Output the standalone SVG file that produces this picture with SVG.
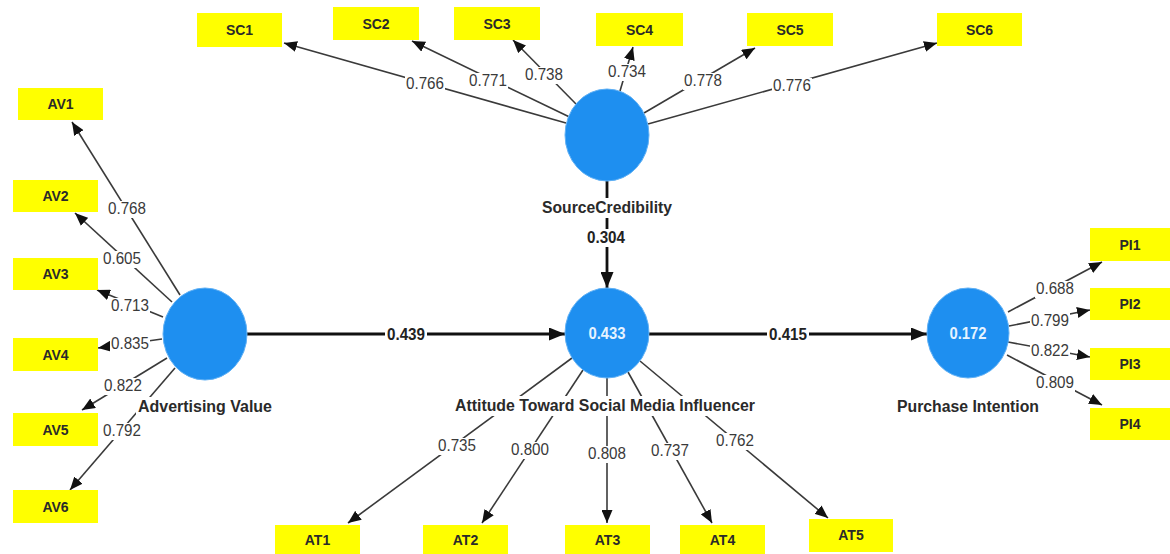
<svg xmlns="http://www.w3.org/2000/svg" width="1170" height="554" viewBox="0 0 1170 554">
<style>
.box{fill:#FFFF00}
.bt{font-family:"Liberation Sans",Arial,sans-serif;font-size:14px;font-weight:bold;fill:#2a2a2a;text-anchor:middle}
.lv{fill:#1E8FF0;stroke:#5fb0f5;stroke-width:1}
.bg{fill:#fff}
.ld{font-family:"Liberation Sans",Arial,sans-serif;font-size:16px;fill:#3a3a3a;text-anchor:middle}
.pc{font-family:"Liberation Sans",Arial,sans-serif;font-size:16px;font-weight:bold;fill:#222;text-anchor:middle}
.nm{font-family:"Liberation Sans",Arial,sans-serif;font-size:16px;font-weight:bold;fill:#2a2a2a;text-anchor:middle}
.r2{font-family:"Liberation Sans",Arial,sans-serif;font-size:16px;font-weight:bold;fill:#e6f3ff;text-anchor:middle}
.ol{stroke:#3a3a3a;stroke-width:1.6;fill:none;marker-end:url(#ah)}
.il{stroke:#111;stroke-width:2.8;fill:none;marker-end:url(#ahb)}
</style>
<defs>
<marker id="ah" markerUnits="userSpaceOnUse" markerWidth="13" markerHeight="11" refX="13" refY="5.5" orient="auto"><path d="M0,0 L13,5.5 L0,11 z" fill="#111"/></marker>
<marker id="ahb" markerUnits="userSpaceOnUse" markerWidth="16" markerHeight="13" refX="16" refY="6.5" orient="auto"><path d="M0,0 L16,6.5 L0,13 z" fill="#111"/></marker>
</defs>
<rect width="1170" height="554" fill="#fff"/>
<g id="connectors">
<line class="ol" x1="566" y1="123" x2="284" y2="43"/>
<line class="ol" x1="568.5" y1="116.5" x2="412" y2="41"/>
<line class="ol" x1="576" y1="104" x2="513" y2="40"/>
<line class="ol" x1="620" y1="91" x2="633" y2="47"/>
<line class="ol" x1="644" y1="113" x2="755" y2="48"/>
<line class="ol" x1="648" y1="124" x2="937" y2="43"/>
<line class="ol" x1="180" y1="295" x2="72" y2="122"/>
<line class="ol" x1="172" y1="302" x2="75" y2="213"/>
<line class="ol" x1="163" y1="317" x2="97" y2="290"/>
<line class="ol" x1="162" y1="339" x2="98" y2="348"/>
<line class="ol" x1="167" y1="358" x2="82" y2="410"/>
<line class="ol" x1="175" y1="368" x2="70" y2="490"/>
<line class="ol" x1="572" y1="358" x2="348" y2="523"/>
<line class="ol" x1="583" y1="370" x2="482" y2="523"/>
<line class="ol" x1="607" y1="378" x2="607" y2="523"/>
<line class="ol" x1="628" y1="372" x2="712" y2="523"/>
<line class="ol" x1="640" y1="361" x2="828" y2="518"/>
<line class="ol" x1="1008" y1="312" x2="1102" y2="262"/>
<line class="ol" x1="1009" y1="326" x2="1090" y2="310"/>
<line class="ol" x1="1008" y1="342" x2="1090" y2="357"/>
<line class="ol" x1="1007" y1="355" x2="1102" y2="405"/>
<line class="il" x1="247" y1="334" x2="565" y2="334"/>
<line class="il" x1="649" y1="334" x2="927" y2="334"/>
<line class="il" x1="607" y1="181" x2="607" y2="288"/>
<rect class="bg" x="405" y="76" width="40" height="17"/>
<rect class="bg" x="468" y="73" width="40" height="17"/>
<rect class="bg" x="524" y="67" width="40" height="17"/>
<rect class="bg" x="607" y="64" width="40" height="17"/>
<rect class="bg" x="683" y="73" width="40" height="17"/>
<rect class="bg" x="772" y="78" width="40" height="17"/>
<rect class="bg" x="107" y="201" width="40" height="17"/>
<rect class="bg" x="102" y="251" width="40" height="17"/>
<rect class="bg" x="110" y="298" width="40" height="17"/>
<rect class="bg" x="110" y="336" width="40" height="17"/>
<rect class="bg" x="103" y="378" width="40" height="17"/>
<rect class="bg" x="102" y="423" width="40" height="17"/>
<rect class="bg" x="437" y="438" width="40" height="17"/>
<rect class="bg" x="510" y="442" width="40" height="17"/>
<rect class="bg" x="587" y="446" width="40" height="17"/>
<rect class="bg" x="650" y="443" width="40" height="17"/>
<rect class="bg" x="715" y="433" width="40" height="17"/>
<rect class="bg" x="1035" y="281" width="40" height="17"/>
<rect class="bg" x="1030" y="313" width="40" height="17"/>
<rect class="bg" x="1030" y="343" width="40" height="17"/>
<rect class="bg" x="1035" y="375" width="40" height="17"/>
<rect class="bg" x="385" y="326" width="42" height="18"/>
<rect class="bg" x="767" y="326" width="42" height="18"/>
<rect class="bg" x="585" y="229" width="42" height="18"/>
<text class="ld" x="425" y="89" textLength="38" lengthAdjust="spacingAndGlyphs">0.766</text>
<text class="ld" x="488" y="86" textLength="38" lengthAdjust="spacingAndGlyphs">0.771</text>
<text class="ld" x="544" y="80" textLength="38" lengthAdjust="spacingAndGlyphs">0.738</text>
<text class="ld" x="627" y="77" textLength="38" lengthAdjust="spacingAndGlyphs">0.734</text>
<text class="ld" x="703" y="86" textLength="38" lengthAdjust="spacingAndGlyphs">0.778</text>
<text class="ld" x="792" y="91" textLength="38" lengthAdjust="spacingAndGlyphs">0.776</text>
<text class="ld" x="127" y="214" textLength="38" lengthAdjust="spacingAndGlyphs">0.768</text>
<text class="ld" x="122" y="264" textLength="38" lengthAdjust="spacingAndGlyphs">0.605</text>
<text class="ld" x="130" y="311" textLength="38" lengthAdjust="spacingAndGlyphs">0.713</text>
<text class="ld" x="130" y="349" textLength="38" lengthAdjust="spacingAndGlyphs">0.835</text>
<text class="ld" x="123" y="391" textLength="38" lengthAdjust="spacingAndGlyphs">0.822</text>
<text class="ld" x="122" y="436" textLength="38" lengthAdjust="spacingAndGlyphs">0.792</text>
<text class="ld" x="457" y="451" textLength="38" lengthAdjust="spacingAndGlyphs">0.735</text>
<text class="ld" x="530" y="455" textLength="38" lengthAdjust="spacingAndGlyphs">0.800</text>
<text class="ld" x="607" y="459" textLength="38" lengthAdjust="spacingAndGlyphs">0.808</text>
<text class="ld" x="670" y="456" textLength="38" lengthAdjust="spacingAndGlyphs">0.737</text>
<text class="ld" x="735" y="446" textLength="38" lengthAdjust="spacingAndGlyphs">0.762</text>
<text class="ld" x="1055" y="294" textLength="38" lengthAdjust="spacingAndGlyphs">0.688</text>
<text class="ld" x="1050" y="326" textLength="38" lengthAdjust="spacingAndGlyphs">0.799</text>
<text class="ld" x="1050" y="356" textLength="38" lengthAdjust="spacingAndGlyphs">0.822</text>
<text class="ld" x="1055" y="388" textLength="38" lengthAdjust="spacingAndGlyphs">0.809</text>
<text class="pc" x="406" y="340" textLength="38" lengthAdjust="spacingAndGlyphs">0.439</text>
<text class="pc" x="788" y="340" textLength="38" lengthAdjust="spacingAndGlyphs">0.415</text>
<text class="pc" x="606" y="243" textLength="38" lengthAdjust="spacingAndGlyphs">0.304</text>
</g>
<g id="SourceCredibility">
<ellipse class="lv" cx="607" cy="135" rx="42" ry="46"/>
<rect class="bg" x="540" y="198" width="134" height="20"/>
<text class="nm" x="607" y="213" textLength="130" lengthAdjust="spacingAndGlyphs">SourceCredibility</text>
</g>
<g id="AdvertisingValue">
<ellipse class="lv" cx="205" cy="334" rx="42" ry="46"/>
<rect class="bg" x="136" y="397" width="138" height="20"/>
<text class="nm" x="205" y="412" textLength="134" lengthAdjust="spacingAndGlyphs">Advertising Value</text>
</g>
<g id="AttitudeTowardSMI">
<ellipse class="lv" cx="607" cy="333" rx="42" ry="45"/>
<text class="r2" x="607" y="339" textLength="37" lengthAdjust="spacingAndGlyphs">0.433</text>
<rect class="bg" x="453" y="396" width="304" height="20"/>
<text class="nm" x="605" y="411" textLength="300" lengthAdjust="spacingAndGlyphs">Attitude Toward Social Media Influencer</text>
</g>
<g id="PurchaseIntention">
<ellipse class="lv" cx="968" cy="333" rx="41" ry="45"/>
<text class="r2" x="968" y="339" textLength="37" lengthAdjust="spacingAndGlyphs">0.172</text>
<text class="nm" x="968" y="412" textLength="142" lengthAdjust="spacingAndGlyphs">Purchase Intention</text>
</g>
<g id="SC1"><rect class="box" x="197" y="13" width="85" height="34"/><text class="bt" x="239.5" y="35">SC1</text></g>
<g id="SC2"><rect class="box" x="333" y="7" width="86" height="33"/><text class="bt" x="376" y="28.5">SC2</text></g>
<g id="SC3"><rect class="box" x="454" y="7" width="86" height="33"/><text class="bt" x="497" y="28.5">SC3</text></g>
<g id="SC4"><rect class="box" x="596" y="13" width="87" height="33"/><text class="bt" x="639.5" y="34.5">SC4</text></g>
<g id="SC5"><rect class="box" x="747" y="13" width="86" height="33"/><text class="bt" x="790" y="34.5">SC5</text></g>
<g id="SC6"><rect class="box" x="937" y="13" width="85" height="33"/><text class="bt" x="979.5" y="34.5">SC6</text></g>
<g id="AV1"><rect class="box" x="18" y="88" width="85" height="32"/><text class="bt" x="60.5" y="109">AV1</text></g>
<g id="AV2"><rect class="box" x="13" y="180" width="85" height="32"/><text class="bt" x="55.5" y="201">AV2</text></g>
<g id="AV3"><rect class="box" x="13" y="258" width="85" height="32"/><text class="bt" x="55.5" y="279">AV3</text></g>
<g id="AV4"><rect class="box" x="13" y="338" width="85" height="33"/><text class="bt" x="55.5" y="359.5">AV4</text></g>
<g id="AV5"><rect class="box" x="13" y="413" width="85" height="33"/><text class="bt" x="55.5" y="434.5">AV5</text></g>
<g id="AV6"><rect class="box" x="13" y="490" width="85" height="33"/><text class="bt" x="55.5" y="511.5">AV6</text></g>
<g id="AT1"><rect class="box" x="275" y="525" width="85" height="29"/><text class="bt" x="317.5" y="545">AT1</text></g>
<g id="AT2"><rect class="box" x="423" y="525" width="85" height="29"/><text class="bt" x="465.5" y="545">AT2</text></g>
<g id="AT3"><rect class="box" x="565" y="525" width="85" height="29"/><text class="bt" x="607.5" y="545">AT3</text></g>
<g id="AT4"><rect class="box" x="680" y="525" width="85" height="29"/><text class="bt" x="722.5" y="545">AT4</text></g>
<g id="AT5"><rect class="box" x="809" y="519" width="84" height="33"/><text class="bt" x="851" y="540">AT5</text></g>
<g id="PI1"><rect class="box" x="1090" y="228" width="80" height="33"/><text class="bt" x="1130" y="249.5">PI1</text></g>
<g id="PI2"><rect class="box" x="1090" y="288" width="80" height="32"/><text class="bt" x="1130" y="309">PI2</text></g>
<g id="PI3"><rect class="box" x="1090" y="348" width="80" height="32"/><text class="bt" x="1130" y="369">PI3</text></g>
<g id="PI4"><rect class="box" x="1090" y="408" width="80" height="32"/><text class="bt" x="1130" y="429">PI4</text></g>
</svg>
